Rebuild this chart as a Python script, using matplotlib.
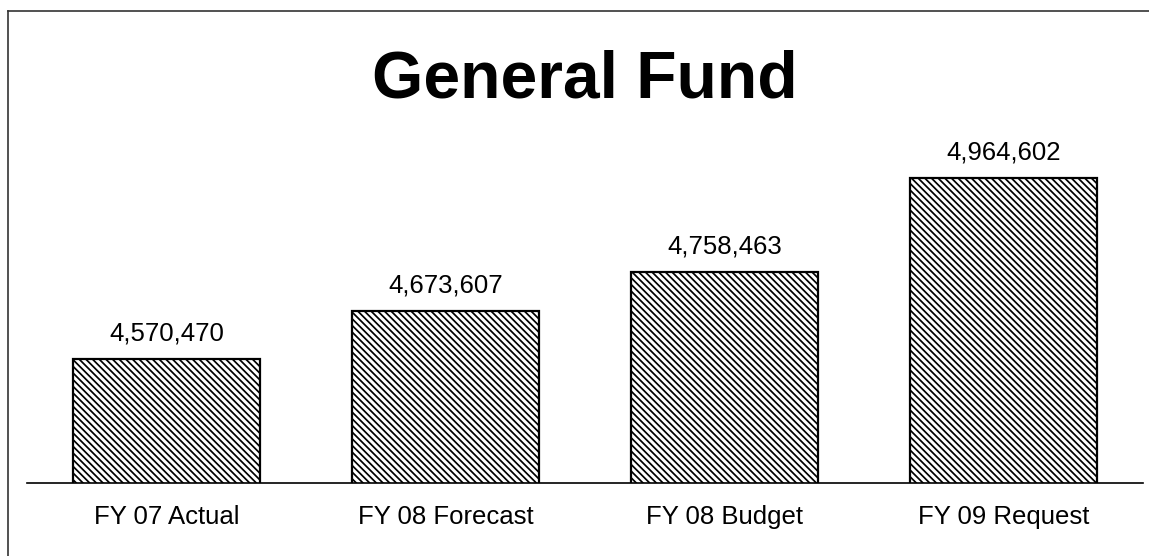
import matplotlib
matplotlib.use("Agg")
import matplotlib.pyplot as plt
from matplotlib.lines import Line2D

categories = ["FY 07 Actual", "FY 08 Forecast", "FY 08 Budget", "FY 09 Request"]
values = [4570470, 4673607, 4758463, 4964602]
value_labels = ["4,570,470", "4,673,607", "4,758,463", "4,964,602"]

plt.rcParams['font.family'] = ['Liberation Sans', 'DejaVu Sans']
plt.rcParams['hatch.linewidth'] = 1.25
plt.rcParams['hatch.color'] = '#333333'

W, H = 1149, 556
fig = plt.figure(figsize=(W / 100, H / 100), dpi=100)

# axes in pixel coordinates
ax_left, ax_right = 27, 1143
ax_bottom_px, ax_top_px = 483, 161.5
ax = fig.add_axes([ax_left / W, 1 - ax_bottom_px / H,
                   (ax_right - ax_left) / W, (ax_bottom_px - ax_top_px) / H])

x = list(range(len(categories)))
bars = ax.bar(x, values, width=0.67, color='white', edgecolor='black',
              linewidth=1.6, hatch='\\' * 5, zorder=2)
ax.set_xlim(-0.5, 3.5)
ax.set_ylim(4300000, 5000000)

for xi, v, lab in zip(x, values, value_labels):
    ax.annotate(lab, (xi, v), xytext=(0, 13.5), textcoords='offset points',
                ha='center', va='baseline', fontsize=18.5, color='black')

ax.set_xticks(x)
ax.set_xticklabels(categories, fontsize=18.5)
ax.tick_params(axis='x', length=0, pad=16)
ax.set_yticks([])
for s in ['top', 'right', 'left']:
    ax.spines[s].set_visible(False)
ax.spines['bottom'].set_linewidth(1.2)
ax.spines['bottom'].set_color('black')

fig.text(584.5 / W, 1 - 98 / H, "General Fund", ha='center', va='baseline',
         fontsize=47.5, fontweight='bold', color='black')

# outer frame (left and top edges)
fig.add_artist(Line2D([7.5 / W, 7.5 / W], [0, 1 - 10.5 / H], transform=fig.transFigure,
                      color='#333333', linewidth=1.2))
fig.add_artist(Line2D([7.5 / W, 1], [1 - 10.5 / H, 1 - 10.5 / H], transform=fig.transFigure,
                      color='#333333', linewidth=1.2))

fig.savefig("out.png", dpi=100, facecolor='white')
